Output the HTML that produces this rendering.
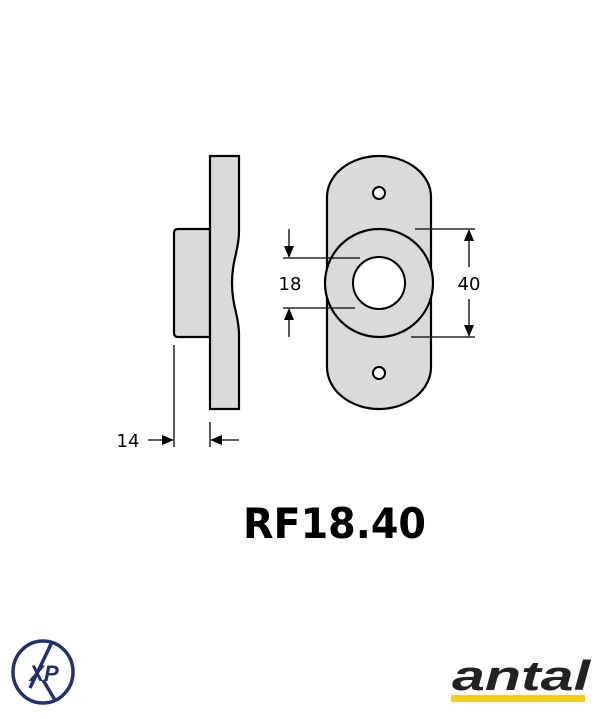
<!DOCTYPE html>
<html><head><style>body{margin:0;background:#fff}svg{display:block}</style></head><body>
<svg width="600" height="719" viewBox="0 0 600 719" xmlns="http://www.w3.org/2000/svg">
<g stroke="#000" stroke-width="2.2" fill="#dadada">
<path d="M174,233 Q174,229 178,229 H210 V337 H178 Q174,337 174,333 Z"/>
<path d="M210,156 H239 V232 C239,250 232,260 232,283 C232,306 239,316 239,334 V409 H210 Z"/>
<path d="M327,197 A52,41 0 0 1 431,197 V367 A52,42 0 0 1 327,367 Z"/>
<circle cx="379" cy="283" r="54"/>
</g>
<g stroke="#000" stroke-width="2" fill="#fff">
<circle cx="379" cy="283" r="26"/>
<circle cx="379" cy="193" r="6"/>
<circle cx="379" cy="373" r="6"/>
</g>
<g stroke="#000" stroke-width="1.3" fill="none">
<line x1="283" y1="258" x2="360" y2="258"/>
<line x1="283" y1="308" x2="355" y2="308"/>
<line x1="289" y1="229" x2="289" y2="250"/>
<line x1="289" y1="316" x2="289" y2="337"/>
<line x1="415" y1="229" x2="475" y2="229"/>
<line x1="411" y1="337" x2="475" y2="337"/>
<line x1="469" y1="240" x2="469" y2="267"/>
<line x1="469" y1="299" x2="469" y2="326"/>
<line x1="174" y1="345" x2="174" y2="447"/>
<line x1="210" y1="422" x2="210" y2="447"/>
<line x1="148" y1="440" x2="166" y2="440"/>
<line x1="218" y1="440" x2="239" y2="440"/>
</g>
<g fill="#000">
<path d="M284,246 H294 L289,258 Z"/>
<path d="M284,320 H294 L289,308 Z"/>
<path d="M464,241 H474 L469,229 Z"/>
<path d="M464,325 H474 L469,337 Z"/>
<path d="M162,435 V445 L174,440 Z"/>
<path d="M222,435 V445 L210,440 Z"/>
</g>
<g font-family="DejaVu Sans, sans-serif" font-size="18" fill="#000">
<text x="290" y="290" text-anchor="middle">18</text>
<text x="469" y="290" text-anchor="middle">40</text>
<text x="128" y="447" text-anchor="middle">14</text>
</g>
<text x="243" y="538" font-family="DejaVu Sans, sans-serif" font-weight="bold" font-size="42" fill="#000" textLength="183" lengthAdjust="spacingAndGlyphs">RF18.40</text>
<g stroke="#23306b" fill="none" stroke-width="3.5">
<ellipse cx="43" cy="672" rx="30" ry="31"/>
<line x1="52" y1="642" x2="30" y2="688"/>
<line x1="43" y1="680" x2="55" y2="700"/>
</g>
<text x="44" y="681" text-anchor="middle" font-family="Liberation Sans, sans-serif" font-weight="bold" font-style="italic" font-size="22" fill="#23306b">XP</text>
<text x="452" y="690" font-family="Liberation Sans, sans-serif" font-weight="bold" font-style="italic" font-size="42" fill="#222" textLength="138" lengthAdjust="spacingAndGlyphs">antal</text>
<rect x="451" y="695" width="134" height="7" fill="#f8cc1b"/>
</svg>
</body></html>
